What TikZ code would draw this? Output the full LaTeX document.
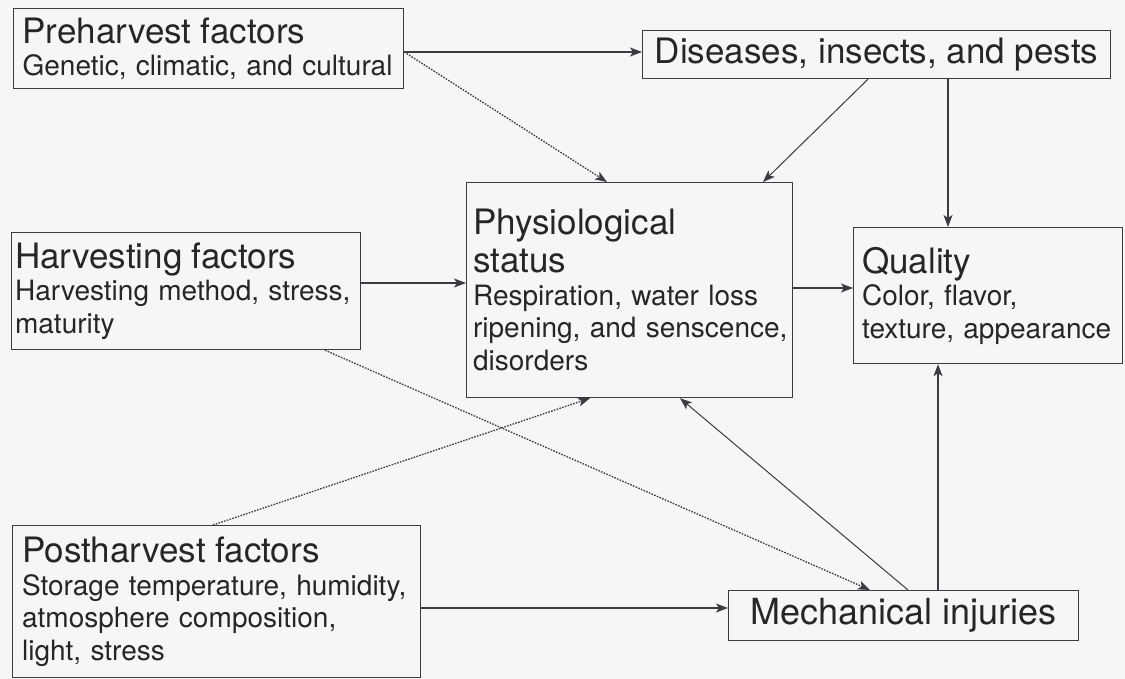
\documentclass[tikz,border=0pt]{standalone}
\usepackage{fontspec}
\setmainfont{TeX Gyre Heros}
\usetikzlibrary{arrows.meta,calc}
\definecolor{bg}{RGB}{246,246,249}
\definecolor{ink}{RGB}{38,38,40}
\definecolor{edge}{RGB}{60,60,64}
\newcommand{\hdfont}{\fontsize{35}{38}\selectfont}
\newcommand{\sbfont}{\fontsize{28}{32.5}\selectfont}
\newcommand{\mcfont}{\fontsize{36}{40}\selectfont}
\begin{document}
\begin{tikzpicture}[x=1pt,y=-1pt,
  box/.style={draw=edge, line width=1.2pt, text=ink, anchor=north west,
    align=left, inner ysep=0pt, font=\sbfont,
    execute at begin node={\hyphenpenalty=10000\exhyphenpenalty=10000}},
  conn/.style={draw=edge, line width=1.3pt, -{Stealth[length=12pt,width=9pt,inset=3pt]}},
  thinconn/.style={conn, line width=1pt},
  dots/.style={conn, line width=1.3pt, dash pattern=on 1.6pt off 1.3pt}]
\fill[bg] (0,0) rectangle (1125,679);
\useasboundingbox (0,0) rectangle (1125,679);

\node[box, minimum width=390pt, minimum height=80pt, inner xsep=8pt, text width=372pt]
  (pre) at (13,8) {{\hdfont Preharvest factors\par}Genetic, climatic, and cultural};
\node[box, minimum width=468pt, minimum height=48pt, align=center, font=\hdfont]
  (dis) at (642,30) {Diseases, insects, and pests};
\node[box, minimum width=326pt, minimum height=215pt, inner xsep=6pt, text width=313pt]
  (phys) at (466,182) {{\hdfont Physiological\\status\par}\mbox{Respiration, water loss}\\\mbox{ripening, and senscence,}\\disorders};
\node[box, minimum width=349pt, minimum height=117pt, inner xsep=3pt, text width=342pt]
  (harv) at (11,232) {{\hdfont Harvesting factors\par}\mbox{Harvesting method, stress,}\\maturity};
\node[box, minimum width=269pt, minimum height=136pt, inner xsep=8pt, text width=252pt]
  (qual) at (853,227) {{\hdfont Quality\par}Color, flavor,\\\mbox{texture, appearance}};
\node[box, minimum width=408pt, minimum height=152pt, inner xsep=9pt, text width=389pt]
  (post) at (12,525) {{\hdfont Postharvest factors\par}\mbox{Storage temperature, humidity,}\\atmosphere composition,\\light, stress};
\node[box, minimum width=350pt, minimum height=50pt, align=center, font=\mcfont]
  (mech) at (728,590) {Mechanical injuries};

\draw[conn] (pre.east |- 0,52) -- (dis.west |- 0,52);
\draw[dots] (pre.east |- 0,52) -- (607,0 |- phys.north);
\draw[thinconn] (868,0 |- dis.south) -- (763,0 |- phys.north);
\draw[conn] (948,0 |- dis.south) -- (948,0 |- qual.north);
\draw[conn] (harv.east |- 0,283) -- (phys.west |- 0,283);
\draw[conn] (phys.east |- 0,288) -- (qual.west |- 0,288);
\draw[dots] (325,0 |- harv.south) -- (870,0 |- mech.north);
\draw[dots] (213,0 |- post.north) -- (590,0 |- phys.south);
\draw[thinconn] (908,0 |- mech.north) -- (680,0 |- phys.south);
\draw[conn] (938,0 |- mech.north) -- (938,0 |- qual.south);
\draw[conn] (post.east |- 0,608) -- (mech.west |- 0,608);
\end{tikzpicture}
\end{document}
